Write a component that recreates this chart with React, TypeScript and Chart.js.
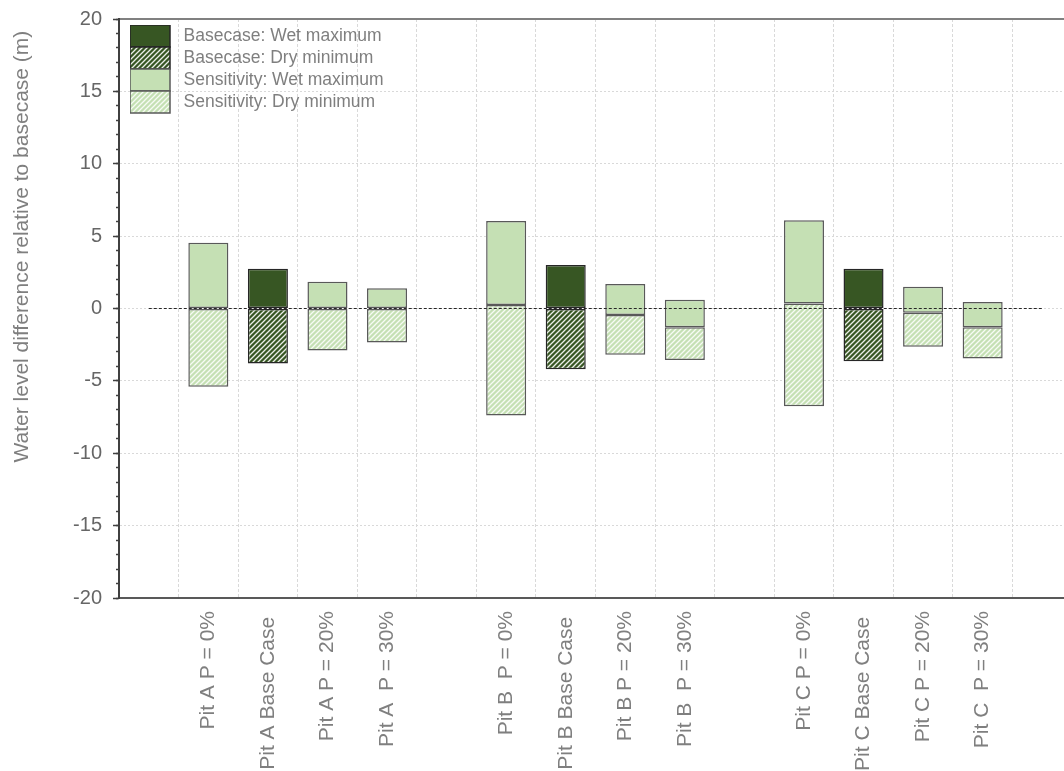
import React, { useEffect, useRef } from 'react';
import { Chart, registerables } from 'chart.js';

Chart.register(...registerables);

const FONT = "'Liberation Sans', Arial, sans-serif";

// Category slots: blank spacers separate the three pits.
const categories = [
  '',
  'Pit A P = 0%',
  'Pit A Base Case ',
  'Pit A P = 20%',
  'Pit A  P = 30%',
  '',
  'Pit B  P = 0%',
  'Pit B Base Case ',
  'Pit B P = 20%',
  'Pit B  P = 30%',
  '',
  'Pit C P = 0%',
  'Pit C Base Case ',
  'Pit C P = 20%',
  'Pit C  P = 30%',
  '',
];

// Basecase wet maximum / dry minimum (m), measured from 0.
const baseWetMax = [null, null, 2.75, null, null, null, null, 3.0, null, null, null, null, 2.75, null, null, null];
const baseDryMin = [null, null, -3.8, null, null, null, null, -4.2, null, null, null, null, -3.65, null, null, null];

// Sensitivity runs: wet maximum, dry minimum and the level where the two ranges meet.
const sensWetMax = [null, 4.55, null, 1.85, 1.4, null, 6.05, null, 1.7, 0.6, null, 6.1, null, 1.5, 0.45, null];
const sensDryMin = [null, -5.4, null, -2.9, -2.35, null, -7.4, null, -3.2, -3.55, null, -6.75, null, -2.65, -3.45, null];
const sensSplit = [null, 0, null, 0, 0, null, 0.25, null, -0.45, -1.3, null, 0.35, null, -0.3, -1.3, null];

// Reference level (no change relative to basecase).
const zeroLine = [0, 0, 0, 0, 0, 0, 0, 0, 0, 0, 0, 0, 0, 0, 0, 0];

const DARK_GREEN = '#375623';
const LIGHT_GREEN = '#c5e0b4';

function hatch(bg: string, line: string): CanvasPattern | string {
  const s = 5;
  const c = document.createElement('canvas');
  c.width = s;
  c.height = s;
  const g = c.getContext('2d');
  if (!g) return bg;
  g.fillStyle = bg;
  g.fillRect(0, 0, s, s);
  g.strokeStyle = line;
  g.lineWidth = 1.3;
  g.beginPath();
  g.moveTo(0, s);
  g.lineTo(s, 0);
  g.moveTo(-1, 1);
  g.lineTo(1, -1);
  g.moveTo(s - 1, s + 1);
  g.lineTo(s + 1, s - 1);
  g.stroke();
  return g.createPattern(c, 'repeat') || bg;
}

// Place the legend block just inside the top-left corner of the plot area.
const legendOffset = {
  id: 'legendOffset',
  afterLayout(chart: any) {
    const lg = chart.legend;
    if (lg) {
      lg.left = chart.chartArea.left + 11;
      lg.top = chart.chartArea.top + 6;
    }
  },
};

export default function App() {
  const ref = useRef<HTMLCanvasElement | null>(null);

  useEffect(() => {
    if (!ref.current) return;
    Chart.defaults.font.family = FONT;

    const range = (lo: (number | null)[], hi: (number | null)[]) =>
      hi.map((v, i) => (v == null || lo[i] == null ? null : [lo[i] as number, v]));
    const fromZero = (vals: (number | null)[]) =>
      vals.map((v) => (v == null ? null : v >= 0 ? [0, v] : [v, 0]));

    const barCommon = {
      grouped: false,
      categoryPercentage: 1,
      barPercentage: 0.672,
      borderSkipped: false,
      xAxisID: 'x',
      yAxisID: 'y',
      order: 1,
    };

    const defaultLabels = (Chart.defaults.plugins.legend.labels as any).generateLabels;

    const chart = new Chart(ref.current, {
      type: 'bar',
      data: {
        labels: categories,
        datasets: [
          {
            ...barCommon,
            label: 'Basecase: Wet maximum',
            data: fromZero(baseWetMax) as any,
            backgroundColor: DARK_GREEN,
            borderColor: '#262626',
            borderWidth: 1.5,
          },
          {
            ...barCommon,
            label: 'Basecase: Dry minimum',
            data: fromZero(baseDryMin) as any,
            backgroundColor: hatch(DARK_GREEN, 'rgba(255,255,255,0.9)') as any,
            borderColor: '#262626',
            borderWidth: 1.5,
          },
          {
            ...barCommon,
            label: 'Sensitivity: Wet maximum',
            data: range(sensSplit, sensWetMax) as any,
            backgroundColor: LIGHT_GREEN,
            borderColor: '#595959',
            borderWidth: 1.5,
          },
          {
            ...barCommon,
            label: 'Sensitivity: Dry minimum',
            data: range(sensDryMin, sensSplit) as any,
            backgroundColor: hatch(LIGHT_GREEN, 'rgba(255,255,255,0.85)') as any,
            borderColor: '#595959',
            borderWidth: 1.5,
          },
          {
            type: 'line' as any,
            label: 'zero',
            data: zeroLine,
            borderColor: '#262626',
            borderWidth: 1,
            borderDash: [3, 2],
            pointRadius: 0,
            fill: false,
            xAxisID: 'x',
            yAxisID: 'y',
            order: 0,
          } as any,
        ],
      },
      options: {
        responsive: false,
        animation: false,
        layout: { padding: { top: 19, right: 10, left: 0, bottom: 0 } },
        plugins: {
          legend: {
            position: 'chartArea' as any,
            align: 'start',
            labels: {
              boxWidth: 40,
              boxHeight: 22,
              padding: 0,
              color: '#7f7f7f',
              font: { family: FONT, size: 17.5 },
              generateLabels: (c: any) =>
                defaultLabels(c).map((it: any) => ({ ...it, text: ' ' + it.text })),
              filter: (item: any) => item.datasetIndex < 4,
            },
          },
          tooltip: { enabled: false },
        },
        scales: {
          x: {
            type: 'category',
            position: 'bottom',
            offset: true,
            grid: { color: '#d9d9d9', drawTicks: false, offset: true },
            border: { color: '#595959', width: 2, dash: [3, 2] },
            ticks: {
              autoSkip: false,
              maxRotation: 90,
              minRotation: 90,
              padding: 13,
              color: '#7f7f7f',
              font: { family: FONT, size: 21 },
            },
            afterFit: (s: any) => {
              s.height = 173;
            },
          },
          xTop: {
            type: 'category',
            position: 'top',
            grid: { display: false },
            ticks: { display: false },
            border: { display: true, color: '#808080', width: 2 },
            afterFit: (s: any) => {
              s.height = 0;
            },
          },
          y: {
            type: 'linear',
            position: 'left',
            weight: 1,
            min: -20,
            max: 20,
            ticks: {
              stepSize: 5,
              padding: 11,
              color: '#666666',
              font: { family: FONT, size: 20 },
            },
            grid: {
              color: '#d9d9d9',
              tickLength: 6,
              tickColor: '#404040',
              tickWidth: 1.5,
            },
            border: { color: '#404040', width: 2, dash: [2, 2] },
            title: {
              display: true,
              text: 'Water level difference relative to basecase (m)  ',
              align: 'end',
              color: '#7f7f7f',
              font: { family: FONT, size: 21 },
              padding: { top: 10, bottom: 0 },
            },
            afterFit: (s: any) => {
              s.width = 119;
              s.paddingTop = 0;
              s.paddingBottom = 0;
            },
          },
          yMinor: {
            type: 'linear',
            position: 'left',
            weight: 0,
            min: -20,
            max: 20,
            ticks: { stepSize: 1, display: false },
            grid: {
              display: true,
              drawOnChartArea: false,
              drawTicks: true,
              tickLength: 3,
              tickColor: '#404040',
              tickWidth: 1.5,
            },
            border: { display: false },
            afterFit: (s: any) => {
              s.width = 0;
              s.paddingTop = 0;
              s.paddingBottom = 0;
            },
          },
        },
      } as any,
      plugins: [legendOffset],
    });

    return () => chart.destroy();
  }, []);

  return (
    <div
      style={{
        position: 'fixed',
        left: 0,
        top: 0,
        width: 1064,
        height: 771,
        overflow: 'hidden',
        background: '#ffffff',
      }}
    >
      <canvas ref={ref} width={1082} height={771} style={{ display: 'block' }} />
    </div>
  );
}
